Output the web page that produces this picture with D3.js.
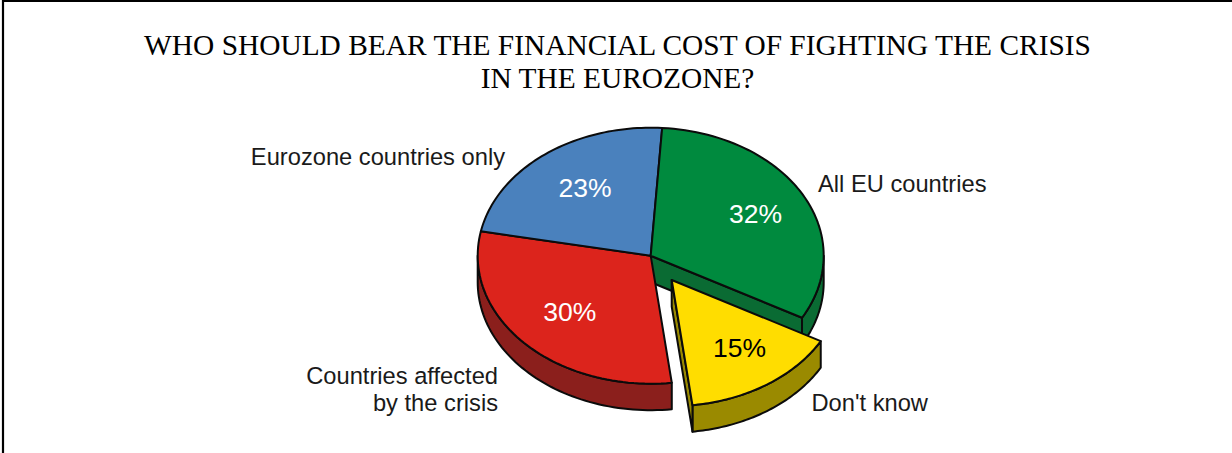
<!DOCTYPE html>
<html>
<head>
<meta charset="utf-8">
<style>
  html, body { margin: 0; padding: 0; background: #fff; }
  svg { display: block; }
</style>
<script src="https://cdn.jsdelivr.net/npm/d3@7/dist/d3.min.js"></script>
</head>
<body>
<svg id="chart" width="1232" height="453"></svg>
<script>
const categories = ["All EU countries", "Don't know", "Countries affected by the crisis", "Eurozone countries only"];
const shares = [32, 15, 30, 23];
const topColors = ["#008a3e", "#ffdd00", "#dc241c", "#4a81bd"];
const wallColors = ["#0a6b33", "#9a8a00", "#8b1f1c", "#3a6594"];
const explodedSlice = [false, true, false, false];
const titleLines = ["WHO SHOULD BEAR THE FINANCIAL COST OF FIGHTING THE CRISIS", "IN THE EUROZONE?"];
const calloutLines = [["All EU countries"], ["Don't know"], ["Countries affected", "by the crisis"], ["Eurozone countries only"]];

const svg = d3.select("#chart");

// Frame: only the left and top sides are ruled
svg.append("path")
  .attr("d", "M3,453V1H1232")
  .attr("fill", "none").attr("stroke", "#000").attr("stroke-width", 2.2);

svg.append("g").selectAll("text").data(titleLines).join("text")
  .attr("x", 617.5).attr("y", (d, i) => 54.5 + i * 33.4)
  .attr("text-anchor", "middle")
  .attr("font-family", "'Liberation Serif', serif")
  .attr("font-size", 29.4)
  .attr("fill", "#000")
  .text(d => d);

// Pie laid flat: a unit circle squashed by the viewing tilt
const cx = 650.7, cy = 255.7, rx = 173, ry = 128, depth = 26.5;
const explodeDx = 21, explodeDy = 24.3, pulledRadius = 0.985;
const sx = d3.scaleLinear().domain([-1, 1]).range([cx - rx, cx + rx]);
const sy = d3.scaleLinear().domain([-1, 1]).range([cy - ry, cy + ry]);
const startAngle = 3.8 * Math.PI / 180;

const arcs = d3.pie().sort(null).value(d => d)
  .startAngle(startAngle).endAngle(startAngle + 2 * Math.PI)(shares);

const project = (angle, radius = 1) => [sx(Math.sin(angle) * radius), sy(-Math.cos(angle) * radius)];
const rimAngles = (a0, a1) => d3.range(0, 61).map(i => a0 + (a1 - a0) * i / 60);
const rim = (a0, a1, r = 1) => rimAngles(a0, a1).map(a => project(a, r));
const line = d3.line();
const closed = pts => line(pts) + "Z";
const lowered = pts => pts.map(([x, y]) => [x, y + depth]);

const topFace = (arc, r = 1) => [project(0, 0), ...rim(arc.startAngle, arc.endAngle, r)];
const rimWall = (a0, a1, r = 1) => { const e = rim(a0, a1, r); return [...e, ...lowered(e).reverse()]; };
const radialWall = (a, r = 1) => { const e = [project(0, 0), project(a, r)]; return [...e, ...lowered(e).reverse()]; };

function drawFace(parent, pts, fill) {
  parent.append("path").attr("d", closed(pts))
    .attr("fill", fill).attr("stroke", "#0b0b0b")
    .attr("stroke-width", 2).attr("stroke-linejoin", "round");
}

const [green, yellow, red, blue] = arcs;
const pie = svg.append("g");

// Walls first, painted back to front; the faces then cover whatever should be hidden
drawFace(pie, rimWall(red.startAngle, 3 * Math.PI / 2), wallColors[2]);
drawFace(pie, rimWall(Math.PI / 2, green.endAngle), wallColors[0]);
drawFace(pie, radialWall(green.endAngle), wallColors[0]);
drawFace(pie, topFace(red), topColors[2]);
drawFace(pie, topFace(blue), topColors[3]);
drawFace(pie, topFace(green), topColors[0]);

const pulled = pie.append("g").attr("transform", `translate(${explodeDx},${explodeDy})`);
drawFace(pulled, rimWall(yellow.startAngle, yellow.endAngle, pulledRadius), wallColors[1]);
drawFace(pulled, radialWall(yellow.endAngle, pulledRadius), wallColors[1]);
drawFace(pulled, topFace(yellow, pulledRadius), topColors[1]);

// Percentages, placed along each slice's mid-angle with a small hand offset
const pctRadius = [0.69, 0.67, 0.64, 0.67];
const pctColors = ["#fff", "#000", "#fff", "#fff"];
const pctNudge = [[0, 0], [3, -3], [0, 0], [5, 0]];
svg.append("g").selectAll("text").data(arcs).join("text")
  .attr("transform", (d, i) => {
    const [x, y] = project((d.startAngle + d.endAngle) / 2, pctRadius[i]);
    const off = explodedSlice[i] ? [explodeDx, explodeDy] : [0, 0];
    return `translate(${x + off[0] + pctNudge[i][0]},${y + off[1] + pctNudge[i][1]})`;
  })
  .attr("text-anchor", "middle").attr("dy", "0.35em")
  .attr("font-family", "'Liberation Sans', Arial, sans-serif")
  .attr("font-size", 26.5)
  .attr("fill", (d, i) => pctColors[i])
  .text(d => d.data + "%");

// Callouts
const calloutAnchor = [[818, 191.7, "start"], [811.5, 411, "start"], [498, 384, "end"], [505, 165, "end"]];
const callouts = svg.append("g")
  .attr("font-family", "'Liberation Sans', Arial, sans-serif")
  .attr("font-size", 23.7).attr("fill", "#1a1a1a");
calloutLines.forEach((lines, i) => {
  const [x, y, anchor] = calloutAnchor[i];
  lines.forEach((t, j) => {
    callouts.append("text").attr("x", x).attr("y", y + j * 26.6)
      .attr("text-anchor", anchor).text(t);
  });
});
</script>
</body>
</html>
